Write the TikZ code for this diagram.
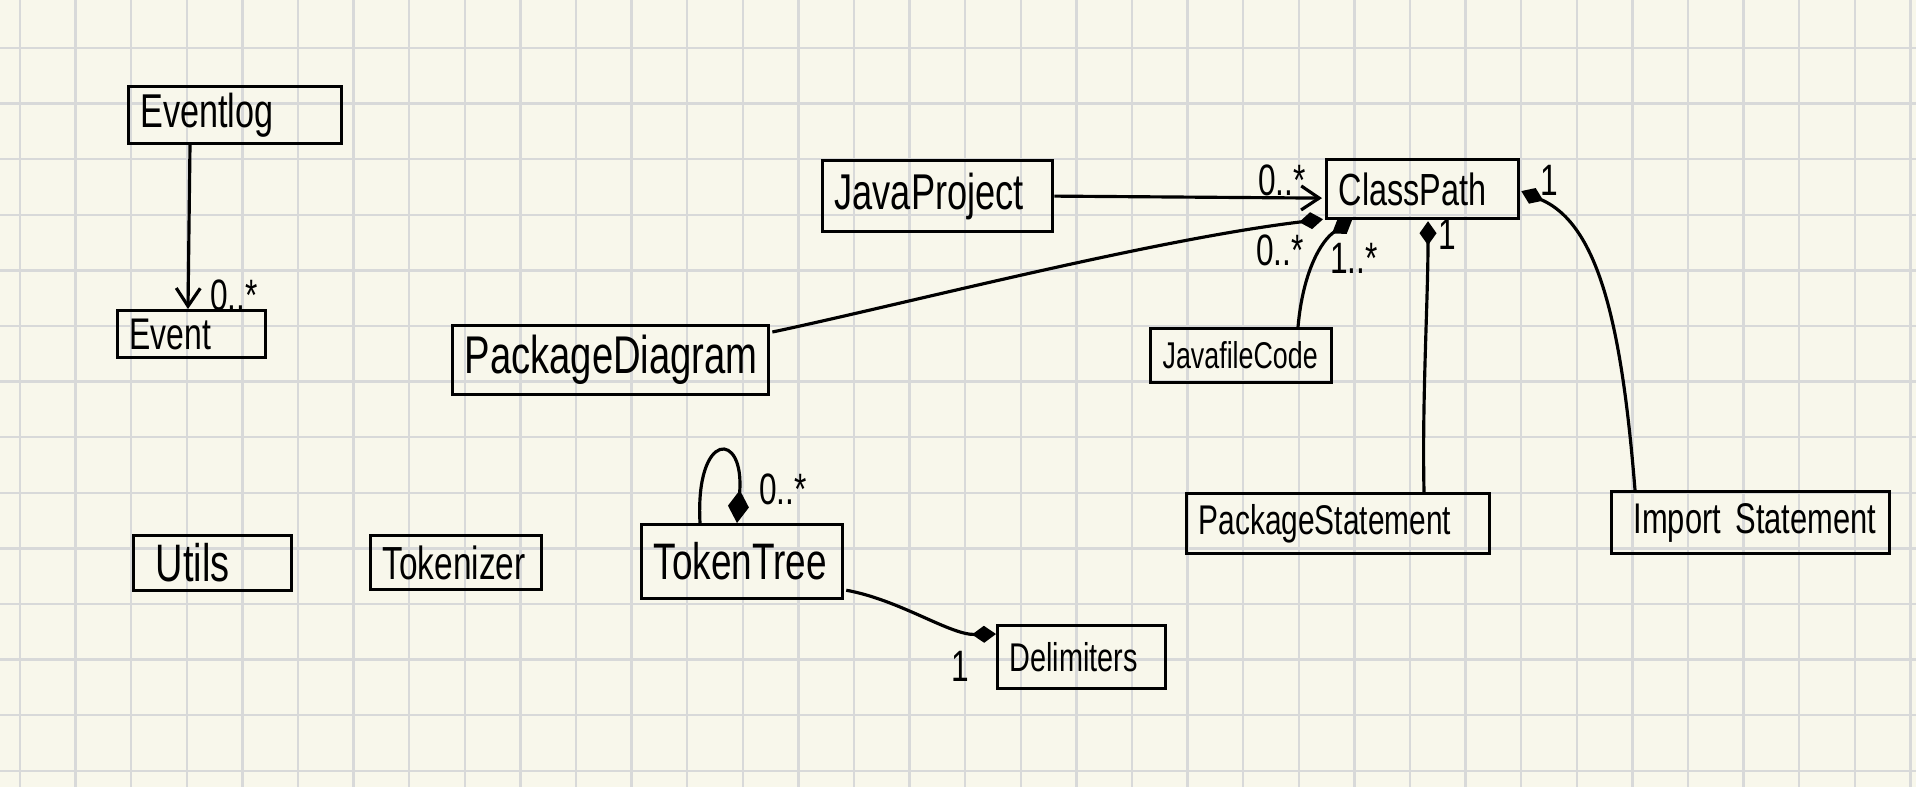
\documentclass[tikz,border=0pt]{standalone}
\usepackage{fontspec}
\setmainfont{Liberation Sans}[FakeStretch=0.72]
\usetikzlibrary{arrows.meta,calc}
\definecolor{paper}{HTML}{F8F7EB}
\definecolor{gridc}{HTML}{D8D9D9}
\newcommand{\myfs}[1]{\fontsize{#1}{#1}\selectfont}
\tikzset{
  gridline/.style={draw=gridc, line width=0.7pt},
  cls/.style={draw=black, line width=0.9pt, anchor=north west, align=left,
              inner xsep=1.2mm, inner ysep=0pt},
  lbl/.style={font=\myfs{12.5}, inner sep=0pt},
  assoc/.style={line width=0.9pt, -{Straight Barb[length=1.8mm,width=2.4mm,line width=0.9pt]}},
  comp/.style={line width=0.9pt, -{Diamond[length=2.4mm,width=1.7mm]}},
  compbig/.style={line width=0.9pt, -{Diamond[length=3.3mm,width=2.1mm]}}
}
\begin{document}
\begin{tikzpicture}[x=0.01cm, y=-0.01cm]
\useasboundingbox (0,0) rectangle (1916,787);
\fill[paper] (0,0) rectangle (1916,787);
\foreach \i in {0,...,34} \draw[gridline] ({20+55.6*\i},0) -- ({20+55.6*\i},787);
\foreach \j in {0,...,13} \draw[gridline] (0,{48+55.6*\j}) -- (1916,{48+55.6*\j});

% classes
\node[cls, text width=1.89cm, minimum height=0.57cm, font=\myfs{13.5}] (eventlog) at (127,85) {Eventlog};
\node[cls, text width=1.24cm, minimum height=0.47cm, font=\myfs{12.6}] (event) at (116,309) {Event};
\node[cls, text width=2.06cm, minimum height=0.71cm, font=\myfs{14.3}] (javaproject) at (821,159) {JavaProject};
\node[cls, text width=1.68cm, minimum height=0.59cm, font=\myfs{12.8}] (classpath) at (1325,158) {ClassPath};
\node[cls, text width=2.92cm, minimum height=0.69cm, font=\myfs{15.1}] (packagediagram) at (451,324) {PackageDiagram};
\node[cls, text width=1.57cm, minimum height=0.54cm, font=\myfs{10.6}] (javafilecode) at (1149,327) {JavafileCode};
\node[cls, text width=2.79cm, minimum height=0.60cm, font=\myfs{11.8}] (packagestatement) at (1185,492) {PackageStatement};
\node[cls, text width=2.54cm, minimum height=0.62cm, font=\myfs{12.2}] (importstatement) at (1610,490) {\hspace{1mm}Import Statement};
\node[cls, text width=1.34cm, minimum height=0.55cm, font=\myfs{15}] (utils) at (132,534) {\hspace{1mm}Utils};
\node[cls, text width=1.47cm, minimum height=0.54cm, font=\myfs{13.2}] (tokenizer) at (369,534) {Tokenizer};
\node[cls, text width=1.77cm, minimum height=0.74cm, font=\myfs{14.6}] (tokentree) at (640,523) {TokenTree};
\node[cls, text width=1.44cm, minimum height=0.63cm, font=\myfs{11.4}] (delimiters) at (996,624) {Delimiters};

% connectors
\draw[assoc] ($(eventlog.south west)+(63,0)$) -- ($(event.north west)+(72,0)$);
\node[lbl] (m1) at (234,295) {0..*};

\draw[assoc] (javaproject.east) -- ($(classpath.west)+(-3,9)$);
\node[lbl] (m2) at (1282,180) {0..*};

\draw[comp] ($(packagediagram.north east)+(2,8)$) .. controls (900,305) and (1150,240) .. ($(classpath.south west)+(-2,-1)$);
\node[lbl] (m3) at (1280,250) {0..*};

\draw[comp] ($(javafilecode.north west)+(149,0)$) .. controls (1303,270) and (1322,240) .. ($(classpath.south west)+(27,0)$);
\node[lbl] (m4) at (1354,258) {1..*};

\draw[comp] ($(packagestatement.north west)+(239,0)$) .. controls (1422,400) and (1428,300) .. ($(classpath.south west)+(103,1)$);
\node[lbl] (m5) at (1447,234) {1};

\draw[comp] ($(importstatement.north west)+(25,0)$) .. controls (1622,330) and (1600,225) .. ($(classpath.east)+(1,2)$);
\node[lbl] (m6) at (1549,180) {1};

\draw[compbig] ($(tokentree.north west)+(60,0)$) .. controls (695,430) and (745,430) .. ($(tokentree.north west)+(97,0)$);
\node[lbl] (m7) at (783,489) {0..*};

\draw[comp] ($(tokentree.south east)+(2,-10)$) .. controls (900,600) and (950,635) .. ($(delimiters.north west)+(0,10)$);
\node[lbl] (m8) at (960,666) {1};
\end{tikzpicture}
\end{document}
